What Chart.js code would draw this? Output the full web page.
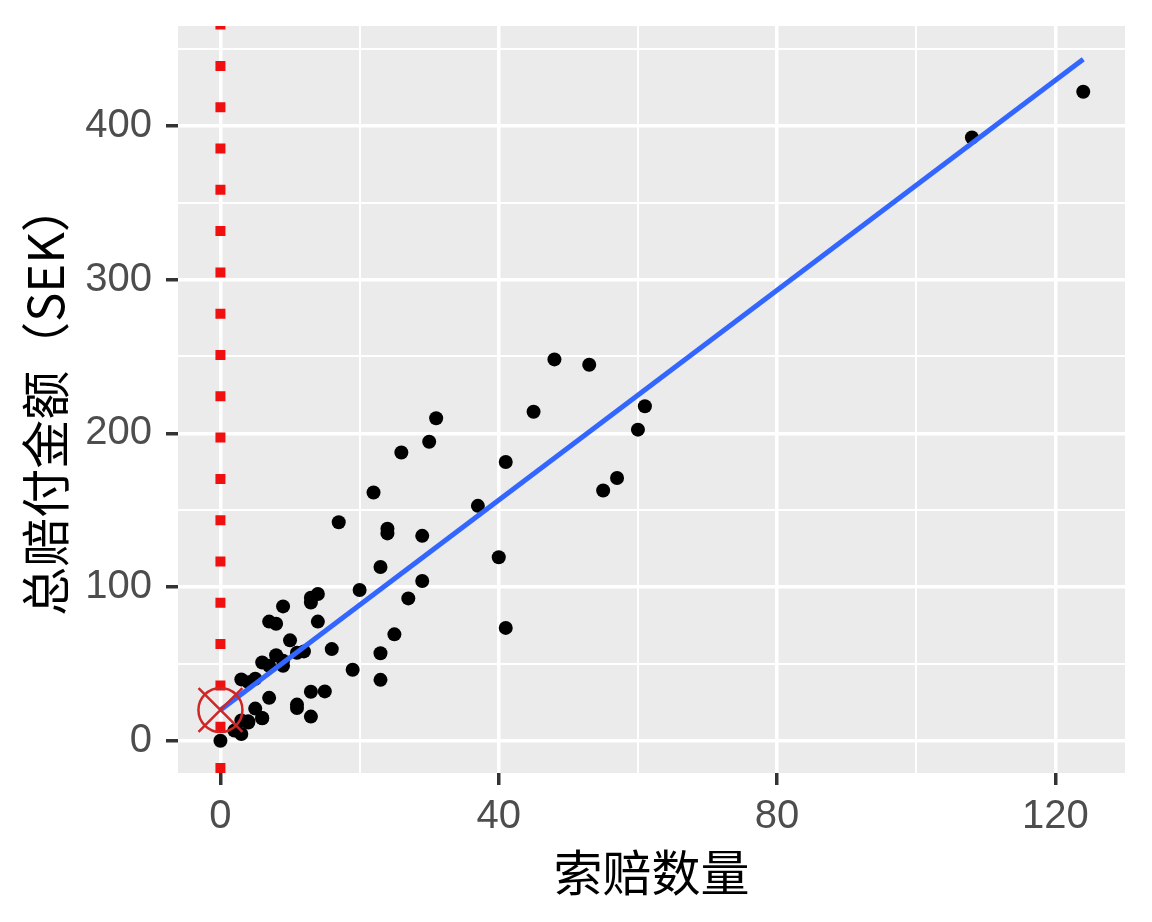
<!DOCTYPE html>
<html>
<head>
<meta charset="utf-8">
<script src="https://cdn.jsdelivr.net/npm/chart.js@4"></script>
<style>
  html, body { margin: 0; padding: 0; background: #ffffff; }
  #wrap { width: 1152px; height: 922px; }
</style>
</head>
<body>
<div id="wrap"><canvas id="claimsChart" width="1152" height="922"></canvas></div>
<script>
// claims (x) vs total payment in SEK thousands (y)
const claims = [108, 19, 13, 124, 40, 57, 23, 14, 45, 10, 5, 48, 11, 23, 7, 2, 24, 6, 3, 23, 6, 9, 9, 3, 29, 7, 4, 20, 7, 4, 0,
  25, 6, 5, 22, 11, 61, 12, 4, 16, 13, 60, 41, 37, 55, 41, 11, 27, 8, 3, 17, 13, 13, 15, 8, 29, 30, 24, 9, 31, 14, 53, 26];
const payment = [392.5, 46.2, 15.7, 422.2, 119.4, 170.9, 56.9, 77.5, 214, 65.3, 20.9, 248.1, 23.5, 39.6, 48.8, 6.6, 134.9, 50.9, 4.4, 113, 14.8, 48.7, 52.1, 13.2, 103.9, 77.5, 11.8, 98.1, 27.9, 38.1, 0,
  69.2, 14.6, 40.3, 161.5, 57.2, 217.6, 58.1, 12.6, 59.6, 89.9, 202.4, 181.3, 152.8, 162.8, 73.4, 21.3, 92.6, 76.1, 39.9, 142.1, 93, 31.9, 32.1, 55.6, 133.3, 194.5, 137.9, 87.4, 209.8, 95.5, 244.6, 187.5];

// fitted line (ends)
const fitX = [0, 124];
const fitY = [20.0, 443.3];

// intercept marker and the dotted zero line
const markX = [0];
const markY = [20.0];
const zeroLineX = [0, 0];
const zeroLineY = [-21, 465];

const xTicks = [0, 20, 40, 60, 80, 100, 120];
const xLabels = [0, 40, 80, 120];
const yTicks = [0, 50, 100, 150, 200, 250, 300, 350, 400, 450];
const yLabels = [0, 100, 200, 300, 400];

const toPts = (xs, ys) => xs.map((x, i) => ({x: x, y: ys[i]}));

const panelBg = {
  id: 'panelBg',
  beforeDraw(chart) {
    const {ctx, chartArea: {left, top, width, height}} = chart;
    ctx.save();
    ctx.fillStyle = '#ffffff';
    ctx.fillRect(0, 0, chart.width, chart.height);
    ctx.fillStyle = '#EBEBEB';
    ctx.fillRect(left, top, width, height);
    ctx.restore();
  }
};

const tickFont = {family: '"Liberation Sans", Arial, sans-serif', size: 40};
const titleFont = {family: '"Noto Sans CJK SC", sans-serif', size: 49};

const data = {
  datasets: [
    {
      label: 'marker circle',
      data: toPts(markX, markY),
      pointStyle: 'circle',
      pointRadius: 22,
      pointBorderWidth: 2.5,
      pointBorderColor: '#D02626',
      pointBackgroundColor: 'rgba(0,0,0,0)',
      order: 0
    },
    {
      label: 'marker cross',
      data: toPts(markX, markY),
      pointStyle: 'crossRot',
      pointRadius: 31,
      pointBorderWidth: 2.5,
      pointBorderColor: '#D02626',
      order: 0
    },
    {
      label: 'fit',
      data: toPts(fitX, fitY),
      showLine: true,
      borderColor: '#3366FF',
      borderWidth: 5,
      pointRadius: 0,
      order: 1
    },
    {
      label: 'zero',
      data: toPts(zeroLineX, zeroLineY),
      showLine: true,
      borderColor: '#F01010',
      borderWidth: 10,
      borderDash: [10, 31.3],
      borderCapStyle: 'butt',
      pointRadius: 0,
      order: 2
    },
    {
      label: 'claims',
      data: toPts(claims, payment),
      pointRadius: 7,
      pointBorderWidth: 0,
      pointBackgroundColor: '#000000',
      order: 3
    }
  ]
};

const config = {
  type: 'scatter',
  data,
  options: {
    responsive: false,
    animation: false,
    events: [],
    layout: {
      autoPadding: false,
      padding: {left: 0, right: 27, top: 26, bottom: 0}
    },
    plugins: {
      legend: {display: false},
      tooltip: {enabled: false}
    },
    scales: {
      x: {
        type: 'linear',
        min: -6.1,
        max: 130,
        afterBuildTicks: (axis) => { axis.ticks = xTicks.map(v => ({value: v})); },
        afterFit: (axis) => {
          axis.height = 149;
          axis.paddingLeft = 0;
          axis.paddingRight = 0;
        },
        border: {display: false},
        grid: {
          color: '#FFFFFF',
          lineWidth: (c) => xLabels.includes(c.tick.value) ? 3.5 : 2,
          tickColor: (c) => xLabels.includes(c.tick.value) ? '#333333' : 'rgba(0,0,0,0)',
          tickWidth: 3.5,
          tickLength: 12
        },
        ticks: {
          color: '#4D4D4D',
          font: tickFont,
          padding: 8,
          maxRotation: 0,
          autoSkip: false,
          callback: (v) => xLabels.includes(v) ? String(v) : ''
        },
        title: {
          display: true,
          text: '索赔数量',
          color: '#000000',
          font: titleFont,
          padding: {top: 0, bottom: 20}
        }
      },
      y: {
        type: 'linear',
        min: -21,
        max: 465,
        afterBuildTicks: (axis) => { axis.ticks = yTicks.map(v => ({value: v})); },
        afterFit: (axis) => {
          axis.width = 178;
          axis.paddingTop = 0;
          axis.paddingBottom = 0;
        },
        border: {display: false},
        grid: {
          color: '#FFFFFF',
          lineWidth: (c) => yLabels.includes(c.tick.value) ? 3.5 : 2,
          tickColor: (c) => yLabels.includes(c.tick.value) ? '#333333' : 'rgba(0,0,0,0)',
          tickWidth: 3.5,
          tickLength: 12
        },
        ticks: {
          color: '#4D4D4D',
          font: tickFont,
          padding: 14,
          autoSkip: false,
          callback: (v) => yLabels.includes(v) ? String(v) : ''
        },
        title: {
          display: true,
          text: '总赔付金额（SEK）',
          color: '#000000',
          font: titleFont,
          padding: {top: 16, bottom: 0}
        }
      }
    }
  },
  plugins: [panelBg]
};

var claimsChart = new Chart(
  document.getElementById('claimsChart').getContext('2d'),
  config
);
</script>
</body>
</html>
